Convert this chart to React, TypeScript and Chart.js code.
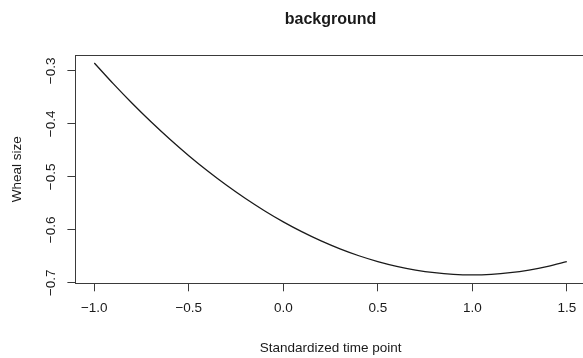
import React, { useEffect, useRef } from "react";
import { Chart, registerables } from "chart.js";

Chart.register(...registerables);

const TITLE = "background";
const X_TITLE = "Standardized time point";
const Y_TITLE = "Wheal size";

const timePoints = [
  -1.0, -0.9, -0.8, -0.7, -0.6, -0.5, -0.4, -0.3, -0.2, -0.1, 0.0, 0.1, 0.2,
  0.3, 0.4, 0.5, 0.6, 0.7, 0.8, 0.9, 1.0, 1.1, 1.2, 1.3, 1.4, 1.5,
];
const whealSize = [
  -0.285, -0.324, -0.361, -0.396, -0.429, -0.46, -0.489, -0.516, -0.541,
  -0.564, -0.585, -0.604, -0.621, -0.636, -0.649, -0.66, -0.669, -0.676,
  -0.681, -0.684, -0.685, -0.684, -0.681, -0.676, -0.669, -0.66,
];
const xTicks = [-1.0, -0.5, 0.0, 0.5, 1.0, 1.5];
const yTicks = [-0.7, -0.6, -0.5, -0.4, -0.3];

const FONT = '"Liberation Sans", Arial, Helvetica, sans-serif';
const AXIS_COLOR = "#3a3a3a";
const TEXT_COLOR = "#1a1a1a";

const fmt = (v: number) => {
  const s = Math.abs(v).toFixed(1);
  return v < -1e-9 ? "\u2212" + s : s;
};

const decorPlugin = {
  id: "rDecor",
  afterDraw(chart: any) {
    const { ctx, chartArea } = chart;
    const yScale = chart.scales.y;
    ctx.save();
    // box
    ctx.strokeStyle = AXIS_COLOR;
    ctx.lineWidth = 1;
    ctx.strokeRect(
      Math.round(chartArea.left) + 0.5,
      Math.round(chartArea.top) + 0.5,
      Math.round(chartArea.right - chartArea.left),
      Math.round(chartArea.bottom - chartArea.top)
    );
    ctx.fillStyle = TEXT_COLOR;
    const cx = (chartArea.left + chartArea.right) / 2;
    // title
    ctx.font = `bold 16px ${FONT}`;
    ctx.textAlign = "center";
    ctx.textBaseline = "alphabetic";
    ctx.fillText(TITLE, cx, 24);
    // x title
    ctx.font = `13.5px ${FONT}`;
    ctx.fillText(X_TITLE, cx, 352);
    // y title
    const cy = (chartArea.top + chartArea.bottom) / 2;
    ctx.save();
    ctx.translate(17.5, cy);
    ctx.rotate(-Math.PI / 2);
    ctx.textAlign = "center";
    ctx.textBaseline = "middle";
    ctx.fillText(Y_TITLE, 0, 0);
    ctx.restore();
    // y tick labels (rotated, parallel to axis)
    yTicks.forEach((v) => {
      const py = yScale.getPixelForValue(v);
      ctx.save();
      ctx.translate(51.5, py);
      ctx.rotate(-Math.PI / 2);
      ctx.textAlign = "center";
      ctx.textBaseline = "middle";
      ctx.fillText(fmt(v), 0, 0);
      ctx.restore();
    });
    ctx.restore();
  },
};

export default function App() {
  const canvasRef = useRef<HTMLCanvasElement | null>(null);

  useEffect(() => {
    if (!canvasRef.current) return;
    const chart = new Chart(canvasRef.current, {
      type: "line",
      data: {
        datasets: [
          {
            data: timePoints.map((x, i) => ({ x, y: whealSize[i] })),
            borderColor: "#1a1a1a",
            borderWidth: 1.3,
            pointRadius: 0,
            tension: 0.3,
            fill: false,
          },
        ],
      },
      options: {
        animation: false,
        responsive: false,
        devicePixelRatio: 1,
        layout: { padding: { left: 0, top: 55, right: 14.3, bottom: 0 } },
        plugins: {
          legend: { display: false },
          title: { display: false },
          tooltip: { enabled: false },
        },
        scales: {
          x: {
            type: "linear",
            min: -1.1,
            max: 1.6,
            afterBuildTicks: (s: any) => {
              s.ticks = xTicks.map((v) => ({ value: v }));
            },
            afterFit: (s: any) => {
              s.height = 74.7;
            },
            grid: {
              drawOnChartArea: false,
              drawTicks: true,
              tickLength: 8,
              color: AXIS_COLOR,
              lineWidth: 1,
            },
            border: { display: true, color: AXIS_COLOR, width: 1 },
            ticks: {
              color: TEXT_COLOR,
              font: { family: FONT, size: 13.5 },
              padding: 9,
              maxRotation: 0,
              minRotation: 0,
              callback: (v: any) => fmt(Number(v)),
            },
          },
          y: {
            type: "linear",
            min: -0.701,
            max: -0.27,
            afterBuildTicks: (s: any) => {
              s.ticks = yTicks.map((v) => ({ value: v }));
            },
            afterFit: (s: any) => {
              s.width = 75.4;
            },
            grid: {
              drawOnChartArea: false,
              drawTicks: true,
              tickLength: 8,
              color: AXIS_COLOR,
              lineWidth: 1,
            },
            border: { display: true, color: AXIS_COLOR, width: 1 },
            ticks: { display: false },
          },
        },
      },
      plugins: [decorPlugin],
    });
    return () => chart.destroy();
  }, []);

  return (
    <div
      style={{
        position: "fixed",
        left: 0,
        top: 0,
        width: 583,
        height: 358,
        overflow: "hidden",
        background: "#fff",
      }}
    >
      <canvas
        ref={canvasRef}
        width={600}
        height={358}
        style={{ display: "block", width: 600, height: 358 }}
      />
    </div>
  );
}
